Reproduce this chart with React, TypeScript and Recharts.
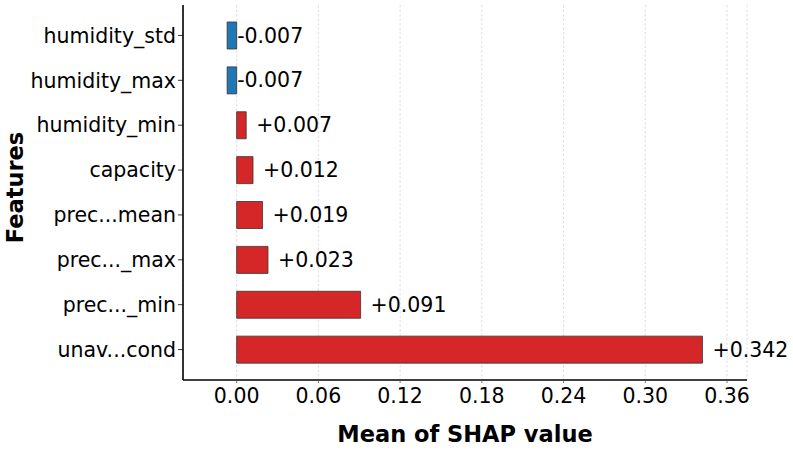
import React from 'react';
import { Bar, BarChart, CartesianGrid, Cell, Label, LabelList, XAxis, YAxis } from 'recharts';

// Mean SHAP value per feature (top to bottom as drawn)
const features = [
  'humidity_std',
  'humidity_max',
  'humidity_min',
  'capacity',
  'prec...mean',
  'prec..._max',
  'prec..._min',
  'unav...cond',
];
const shapValues = [-0.007, -0.007, 0.007, 0.012, 0.019, 0.023, 0.091, 0.342];
const xTicks = [0, 0.06, 0.12, 0.18, 0.24, 0.3, 0.36];

const FONT = '"DejaVu Sans", Verdana, sans-serif';
const POS_COLOR = '#d62728';
const NEG_COLOR = '#1f77b4';

const data = features.map((name, i) => ({ name, value: shapValues[i] }));

function ValueLabel(props: any) {
  const { x, y, width, height, value } = props;
  const left = Math.min(x, x + width);
  const right = Math.max(x, x + width);
  const end = value >= 0 ? right : left;
  const text = value >= 0 ? `+${value.toFixed(3)}` : value.toFixed(3);
  return (
    <text
      x={end + 10}
      y={y + height / 2}
      dominantBaseline="central"
      textAnchor="start"
      fontSize={20.5}
      fontFamily={FONT}
      fill="#000"
    >
      {text}
    </text>
  );
}

function XTitle(props: any) {
  const vb = props.viewBox;
  return (
    <text
      x={vb.x + vb.width / 2}
      y={vb.y + 62}
      textAnchor="middle"
      fontSize={22.5}
      fontWeight="bold"
      fontFamily={FONT}
      fill="#000"
    >
      Mean of SHAP value
    </text>
  );
}

function YTitle(props: any) {
  const vb = props.viewBox;
  const cx = 23;
  const cy = vb.y + vb.height / 2 - 5;
  return (
    <text
      x={cx}
      y={cy}
      transform={`rotate(-90, ${cx}, ${cy})`}
      textAnchor="middle"
      fontSize={22.5}
      fontWeight="bold"
      fontFamily={FONT}
      fill="#000"
    >
      Features
    </text>
  );
}

export default function App() {
  return (
    <div style={{ position: 'absolute', left: 0, top: 0, background: '#fff' }}>
      <BarChart
        width={793}
        height={452}
        data={data}
        layout="vertical"
        margin={{ top: 5, right: 46, bottom: 0, left: 0 }}
      >
        <CartesianGrid horizontal={false} stroke="#d6d6d6" strokeDasharray="2.5 2" strokeWidth={0.8} />
        <XAxis
          type="number"
          domain={[-0.0394, 0.3747]}
          ticks={xTicks}
          allowDataOverflow
          tickFormatter={(v: number) => v.toFixed(2)}
          height={72}
          tickSize={3}
          tickMargin={5}
          axisLine={{ stroke: '#000', strokeWidth: 1.6 }}
          tickLine={{ stroke: '#555', strokeWidth: 0.8 }}
          tick={{ fill: '#000', fontSize: 20.5, fontFamily: FONT }}
        >
          <Label content={XTitle} />
        </XAxis>
        <YAxis
          type="category"
          dataKey="name"
          width={183}
          padding={{ top: 8, bottom: 8 }}
          tickSize={5}
          tickMargin={2}
          axisLine={{ stroke: '#000', strokeWidth: 1.6 }}
          tickLine={{ stroke: '#000', strokeWidth: 0.8 }}
          tick={{ fill: '#000', fontSize: 20.5, fontFamily: FONT }}
        >
          <Label content={YTitle} />
        </YAxis>
        <Bar dataKey="value" barSize={27} stroke="#333" strokeWidth={0.8} isAnimationActive={false}>
          {data.map((d, i) => (
            <Cell key={i} fill={d.value >= 0 ? POS_COLOR : NEG_COLOR} />
          ))}
          <LabelList dataKey="value" content={ValueLabel} />
        </Bar>
      </BarChart>
    </div>
  );
}
